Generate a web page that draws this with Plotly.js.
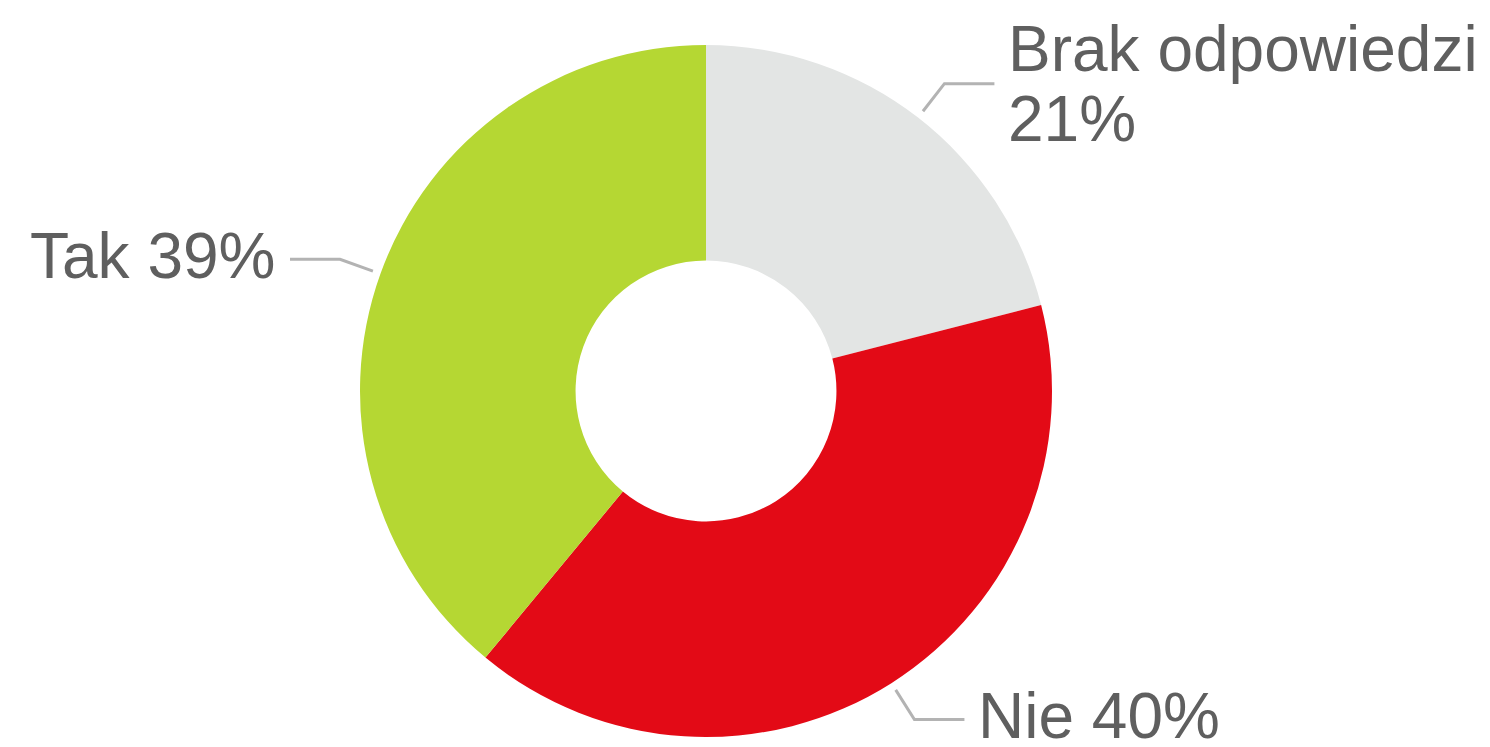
<!DOCTYPE html>
<html>
<head>
<meta charset="utf-8">
<script src="https://cdn.plot.ly/plotly-3.0.1.min.js"></script>
<style>html,body{margin:0;padding:0;background:#fff;}#chart{width:1490px;height:747px;}</style>
</head>
<body>
<div id="chart"></div>
<script>
const categories = ["Brak odpowiedzi", "Nie", "Tak"];
const values = [21, 40, 39];
const colors = ["#e3e5e4", "#e30a16", "#b5d733"];

const W = 1490, H = 747;
const cx = 706, cy = 391, R = 346;
const px = x => x / W;
const py = y => 1 - y / H;

// pie domain from centre and radius
const domain = {x: [px(cx - R), px(cx + R)], y: [py(cy + R), py(cy - R)]};

const total = values.reduce((a, b) => a + b, 0);
const shapes = [];
const annotations = [];
const fontStyle = {family: "Liberation Sans, Arial, sans-serif", size: 64, color: "#5f5f5f"};
let cum = 0;
values.forEach((v, i) => {
  const mid = (cum + v / 2) / total * 2 * Math.PI; // clockwise from 12 o'clock
  cum += v;
  const sx = cx + 354 * Math.sin(mid), sy = cy - 354 * Math.cos(mid);
  const ex = cx + 389 * Math.sin(mid), ey = cy - 389 * Math.cos(mid);
  const right = Math.sin(mid) >= 0;
  const hx = ex + (right ? 50 : -50);
  shapes.push({
    type: "path", xref: "paper", yref: "paper",
    path: `M ${px(sx)} ${py(sy)} L ${px(ex)} ${py(ey)} L ${px(hx)} ${py(ey)}`,
    line: {color: "#b3b3b3", width: 3}
  });
  const pct = v + "%";
  const tx = hx + (right ? 12 : -13);
  if (categories[i].length > 6) {
    annotations.push({xref: "paper", yref: "paper", x: px(tx), y: py(ey - 35), xanchor: "left", yanchor: "middle",
      text: categories[i], showarrow: false, font: fontStyle});
    annotations.push({xref: "paper", yref: "paper", x: px(tx), y: py(ey + 35), xanchor: "left", yanchor: "middle",
      text: pct, showarrow: false, font: fontStyle});
  } else {
    annotations.push({xref: "paper", yref: "paper", x: px(tx), y: py(ey - 3), xanchor: right ? "left" : "right", yanchor: "middle",
      text: categories[i] + " " + pct, showarrow: false, font: fontStyle});
  }
});

const data = [{
  type: "pie",
  labels: categories,
  values: values,
  hole: 0.377,
  sort: false,
  direction: "clockwise",
  rotation: 0,
  marker: {colors: colors, line: {width: 0}},
  textinfo: "none",
  hoverinfo: "none",
  domain: domain
}];

const layout = {
  width: W, height: H,
  margin: {l: 0, r: 0, t: 0, b: 0},
  showlegend: false,
  paper_bgcolor: "#ffffff",
  shapes: shapes,
  annotations: annotations
};

Plotly.newPlot("chart", data, layout, {displayModeBar: false, staticPlot: true});
</script>
</body>
</html>
